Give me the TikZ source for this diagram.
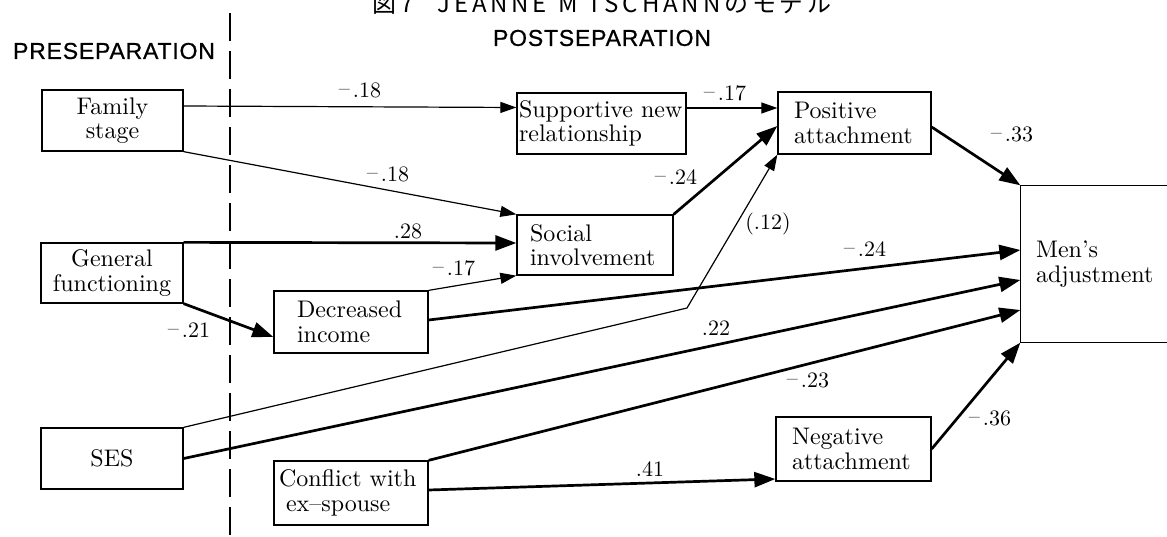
\documentclass[tikz,border=0pt]{standalone}
\usepackage{fontspec}
\setmainfont{lmroman10-regular}[Extension=.otf]
\newfontfamily\hsf[LetterSpace=3.5,FakeBold=0.8]{Liberation Sans}
\newfontfamily\cjk[LetterSpace=16]{Noto Sans CJK JP}
\usetikzlibrary{arrows.meta,calc}
\newcommand\mn{\raisebox{1.5pt}{–}\kern3pt}
\begin{document}
\begin{tikzpicture}[x=1pt,y=-1pt,
  box/.style={draw, line width=1.3pt, inner sep=0pt, font=\fontsize{24}{24.5}\selectfont},
  heavy/.style={line width=2.7pt, -{Triangle[length=21pt,width=15pt]}},
  light/.style={line width=1.2pt, -{Triangle[length=16pt,width=11pt]}},
  lab/.style={font=\fontsize{22}{22}\selectfont, inner sep=0pt},
  head/.style={font=\hsf\fontsize{23}{23}\selectfont, inner sep=0pt}]
\useasboundingbox (0,0) rectangle (1167,537);

% title (cut off at top)
\node[anchor=base west, inner sep=0pt, font=\cjk\fontsize{24}{24}\selectfont] (title) at (372,13) {図7\quad JEANNE\enspace M TSCHANNのモデル};

% headings and divider
\node[head] (pre) at (114,51) {PRESEPARATION};
\node[head] (post) at (602,38) {POSTSEPARATION};
\coordinate (dtop) at (230,13);
\coordinate (dbot) at (230,537);
\draw[line width=1.3pt, dash pattern=on 28pt off 10pt] (dtop) -- (dbot);

% boxes
\node[box, minimum width=141pt, minimum height=61pt, text width=141pt, align=center] (fam) at (112.5,120.5) {Family\\stage};
\node[box, minimum width=142pt, minimum height=60pt, text width=142pt, align=center] (gen) at (112,273) {General\\functioning};
\node[box, minimum width=142pt, minimum height=61pt, text width=142pt, align=center] (ses) at (112,458.5) {SES};
\node[box, minimum width=169pt, minimum height=61pt, text width=169pt, align=left] (sup) at (601.5,123.5) {\hspace*{2pt}Supportive new\\\hspace*{2pt}relationship};
\node[box, minimum width=153pt, minimum height=62pt, text width=153pt, align=left] (pos) at (854.5,123) {\hspace*{16pt}Positive\\\hspace*{16pt}attachment};
\node[box, minimum width=156pt, minimum height=60pt, text width=156pt, align=left] (soc) at (595,245) {\hspace*{13pt}Social\\\hspace*{13pt}involvement};
\node[box, minimum width=154pt, minimum height=62pt, text width=154pt, align=left] (dec) at (351,322) {\hspace*{23pt}Decreased\\\hspace*{23pt}income};
\node[box, minimum width=154pt, minimum height=64pt, text width=154pt, align=left] (con) at (351,493) {\hspace*{5pt}Conflict with\\\hspace*{12pt}ex--spouse};
\node[box, minimum width=155pt, minimum height=64pt, text width=155pt, align=left] (neg) at (853.5,449) {\hspace*{16pt}Negative\\\hspace*{16pt}attachment};
\node[box, draw=none, minimum width=146pt, minimum height=156pt, text width=146pt, align=left] (men) at (1094,264) {\hspace*{15pt}Men’s\\\hspace*{15pt}adjustment};
\draw[line width=1.3pt] (men.north east) -- (men.north west) -- (men.south west) -- (men.south east);

% connectors
\coordinate (k12) at (687,308);
\draw[light] ([yshift=14.5]fam.east) -- ([yshift=16]sup.west);
\draw[light] (fam.south east) -- (soc.north west);
\draw[heavy] (gen.north east) -- ([yshift=2]soc.west);
\draw[heavy] (gen.south east) -- ([yshift=-15]dec.west);
\draw[light] (dec.north east) -- (soc.south west);
\draw[heavy] ([yshift=2]dec.east) -- ([yshift=14]men.west);
\draw[light] ([yshift=15.5]sup.east) -- ([yshift=15]pos.west);
\draw[heavy] (soc.north east) -- ([yshift=-3]pos.west);
\draw[light] (ses.north east) -- (k12) -- (pos.south west);
\draw[heavy] (ses.east) -- ([yshift=-16]men.west);
\draw[heavy] (con.north east) -- ([yshift=-46]men.west);
\draw[heavy] ([yshift=3]con.east) -- ([yshift=-30]neg.west);
\draw[heavy] ([yshift=-4]pos.east) -- (men.north west);
\draw[heavy] (neg.east) -- (men.south west);

% coefficients
\node[lab] (l1) at (360,90) {\mn.18};
\node[lab] (l2) at (388,174) {\mn.18};
\node[lab] (l3) at (408,231) {.28};
\node[lab] (l4) at (454,268) {\mn.17};
\node[lab] (l5) at (189,330) {\mn.21};
\node[lab] (l6) at (725,93) {\mn.17};
\node[lab] (l7) at (676,177) {\mn.24};
\node[lab] (l8) at (768,224) {(.12)};
\node[lab] (l9) at (865,249) {\mn.24};
\node[lab] (l10) at (716,328) {.22};
\node[lab] (l11) at (808,380) {\mn.23};
\node[lab] (l12) at (650,469) {.41};
\node[lab] (l13) at (1012,134) {\mn.33};
\node[lab] (l14) at (990,418) {\mn.36};
\end{tikzpicture}
\end{document}
